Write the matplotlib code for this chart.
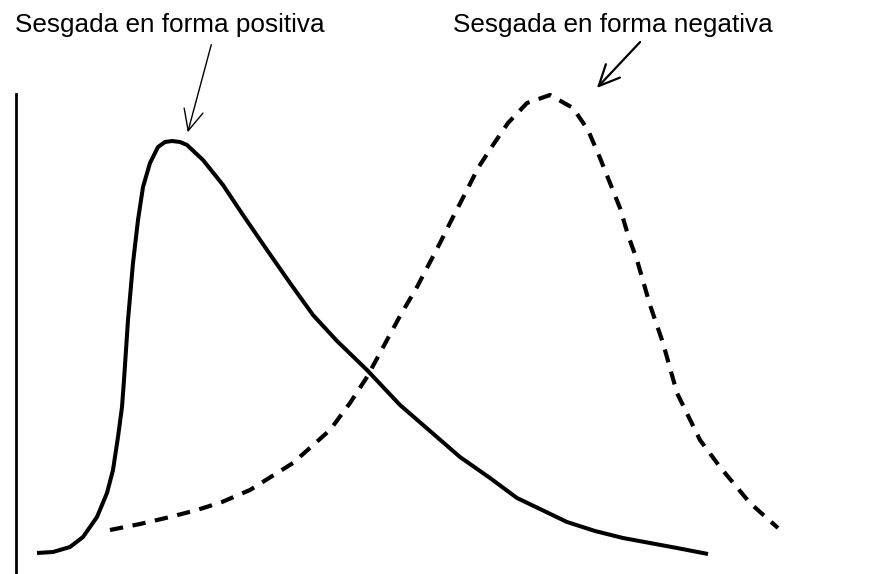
import matplotlib.pyplot as plt

# curve heights (x in px from left, y = height above bottom)
pos_x = [37, 53, 70, 83, 97, 107, 113, 118, 122, 124, 128, 133, 138, 143, 150, 158,
         165, 172, 180, 187, 203, 223, 243, 267, 290, 313, 337, 367, 400, 430, 460,
         490, 517, 540, 567, 595, 623, 650, 677, 708]
pos_y = [21, 22, 27, 37, 57, 81, 104, 137, 167, 194, 254, 311, 354, 387, 411, 427,
         432, 433, 432, 429, 414, 389, 359, 324, 291, 259, 233, 204, 169, 143, 117,
         96, 76, 65, 52, 43, 36, 31, 26, 20]

neg_x = [110, 140, 170, 197, 222, 250, 293, 330, 350, 367, 387, 400, 417, 440, 453,
         467, 478, 493, 508, 527, 550, 573, 588, 600, 610, 620, 628, 637, 650, 663,
         677, 700, 720, 750, 778]
neg_y = [44, 50, 57, 64, 72, 84, 111, 144, 171, 197, 234, 258, 287, 331, 357,
         384, 406, 429, 451, 471, 479, 466, 444, 416, 391, 366, 339, 314, 269, 231,
         181, 134, 107, 71, 46]

label_pos = "Sesgada en forma positiva"
label_neg = "Sesgada en forma negativa"

plt.rcParams['font.family'] = ['Liberation Sans', 'DejaVu Sans']

fig = plt.figure(figsize=(8.91, 5.74), dpi=100)
ax = fig.add_axes([0, 0, 1, 1])
ax.set_xlim(0, 891)
ax.set_ylim(0, 574)

ax.plot(pos_x, pos_y, color='black', lw=2.9, solid_capstyle='butt',
        solid_joinstyle='round')
ax.plot(neg_x, neg_y, color='black', lw=3.0, dashes=(3.2, 2.3))

# only the left axis line is shown
for s in ['top', 'right', 'bottom']:
    ax.spines[s].set_visible(False)
ax.spines['left'].set_position(('data', 16))
ax.spines['left'].set_bounds(0, 480)
ax.spines['left'].set_linewidth(2.0)
ax.set_xticks([])
ax.set_yticks([])

ax.text(15, 549, label_pos, fontsize=18.8, va='center', ha='left')
ax.text(453, 549, label_neg, fontsize=18.8, va='center', ha='left')

ax.annotate('', xy=(187, 439), xytext=(212, 532),
            arrowprops=dict(arrowstyle='->,head_length=0.75,head_width=0.35',
                            lw=1.0, color='black', mutation_scale=20))
ax.annotate('', xy=(595, 484), xytext=(642, 534),
            arrowprops=dict(arrowstyle='->,head_length=0.75,head_width=0.35',
                            lw=1.6, color='black', mutation_scale=20))

fig.savefig('out.png', dpi=100)
